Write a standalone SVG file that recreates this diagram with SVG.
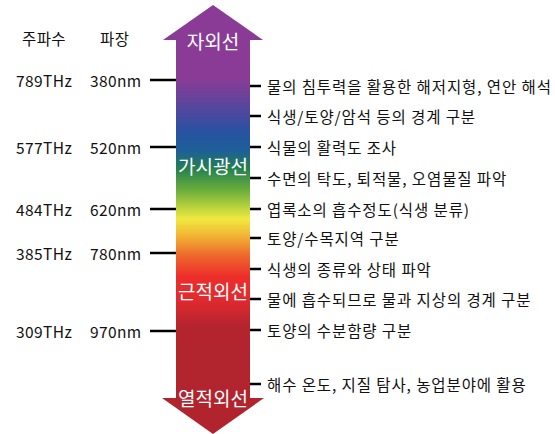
<svg xmlns="http://www.w3.org/2000/svg" width="555" height="434" viewBox="0 0 555 434">
<style>
.t{font-family:"Noto Sans CJK KR","Noto Sans",sans-serif;font-size:15.5px;fill:#111;dominant-baseline:central;letter-spacing:0.4px}
.u{letter-spacing:0.9px}
.h{font-family:"Noto Sans CJK KR","Noto Sans",sans-serif;font-size:19px;fill:#fff;text-anchor:middle;dominant-baseline:central}
.k{stroke:#000;stroke-width:2.5;fill:none}
</style>
<defs>
<linearGradient id="spec" gradientUnits="userSpaceOnUse" x1="0" y1="39" x2="0" y2="399">
<stop offset="0" stop-color="#8A3B96"/>
<stop offset="0.11" stop-color="#8A3B96"/>
<stop offset="0.2" stop-color="#4F489E"/>
<stop offset="0.26" stop-color="#2753A0"/>
<stop offset="0.31" stop-color="#1D5F98"/>
<stop offset="0.36" stop-color="#23804F"/>
<stop offset="0.42" stop-color="#6BAE3C"/>
<stop offset="0.475" stop-color="#C6D83E"/>
<stop offset="0.5" stop-color="#F1E941"/>
<stop offset="0.55" stop-color="#F2B033"/>
<stop offset="0.6" stop-color="#EE6A2C"/>
<stop offset="0.66" stop-color="#EC2E2A"/>
<stop offset="0.72" stop-color="#E32A2E"/>
<stop offset="0.8" stop-color="#B3242F"/>
<stop offset="1" stop-color="#B1242E"/>
</linearGradient>
</defs>
<g id="arrow">
<rect x="176" y="39" width="74" height="360" fill="url(#spec)"/>
<polygon points="213,5 263,40 163,40" fill="#8A3B96"/>
<polygon points="162,398 264,398 213,434" fill="#B1242E"/>
</g>
<g id="band-labels">
<text class="h" x="213" y="40">자외선</text>
<text class="h" x="213" y="165">가시광선</text>
<text class="h" x="213" y="290">근적외선</text>
<text class="h" x="213" y="397">열적외선</text>
</g>
<g id="headers">
<text class="t" x="22" y="38">주파수</text>
<text class="t" x="100" y="38">파장</text>
</g>
<g id="connectors">
<path class="k" d="M150,80H176M150,147H176M150,209H176M150,253H176M150,331H176"/>
<path class="k" d="M250,86H261M250,116H261M250,147H261M250,178H261M250,209H261M250,238H261M250,269H261M250,299H261M250,330H261M250,384H261"/>
</g>
<g id="scale">
<text class="t" x="16" y="80">789THz</text><text class="t" x="90" y="80">380nm</text>
<text class="t" x="16" y="147">577THz</text><text class="t" x="90" y="147">520nm</text>
<text class="t" x="16" y="209">484THz</text><text class="t" x="90" y="209">620nm</text>
<text class="t" x="16" y="253">385THz</text><text class="t" x="90" y="253">780nm</text>
<text class="t" x="16" y="331">309THz</text><text class="t" x="90" y="331">970nm</text>
</g>
<g id="uses">
<text class="t u" x="267" y="86">물의 침투력을 활용한 해저지형, 연안 해석</text>
<text class="t u" x="267" y="116">식생/토양/암석 등의 경계 구분</text>
<text class="t u" x="267" y="147">식물의 활력도 조사</text>
<text class="t u" x="267" y="178">수면의 탁도, 퇴적물, 오염물질 파악</text>
<text class="t u" x="267" y="209">엽록소의 흡수정도(식생 분류)</text>
<text class="t u" x="267" y="238">토양/수목지역 구분</text>
<text class="t u" x="267" y="269">식생의 종류와 상태 파악</text>
<text class="t u" x="267" y="299">물에 흡수되므로 물과 지상의 경계 구분</text>
<text class="t u" x="267" y="330">토양의 수분함량 구분</text>
<text class="t u" x="267" y="384">해수 온도, 지질 탐사, 농업분야에 활용</text>
</g>
</svg>
